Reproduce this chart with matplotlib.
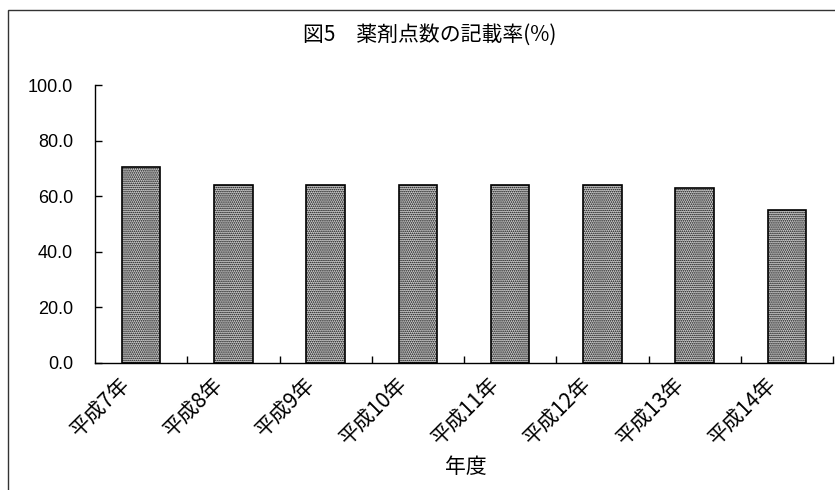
import matplotlib
matplotlib.use("Agg")
import matplotlib.pyplot as plt
from matplotlib.patches import Rectangle
from matplotlib.ticker import FixedLocator, FormatStrFormatter
from matplotlib.transforms import ScaledTranslation

plt.rcParams['font.family'] = ['Noto Sans CJK JP', 'DejaVu Sans']
plt.rcParams['hatch.linewidth'] = 0.8
plt.rcParams['hatch.color'] = '#6a6a6a'

categories = ['平成7年', '平成8年', '平成9年', '平成10年', '平成11年', '平成12年', '平成13年', '平成14年']
rates = [70.4, 64.0, 64.1, 64.0, 64.0, 63.9, 62.9, 55.0]
yticks = [0, 20, 40, 60, 80, 100]

fig = plt.figure(figsize=(8.35, 4.9), dpi=100)
W, H = 835, 490

# outer frame around the chart (its right and bottom edges fall outside the canvas)
fig.patches.append(Rectangle((8 / W, -0.2), 1.2, (480 / H) + 0.2,
                             transform=fig.transFigure, fill=False,
                             edgecolor='#333333', linewidth=1.0))

ax = fig.add_axes([95 / W, (H - 362.7) / H, (833 - 95) / W, (362.7 - 85) / H])
x = list(range(len(categories)))
ax.bar(x, rates, width=0.42, facecolor='#d2d2d2', edgecolor='black',
       linewidth=1.2, hatch='........')

ax.set_xlim(-0.5, len(categories) - 0.5)
ax.set_ylim(0, 100)
ax.set_yticks(yticks)
ax.yaxis.set_major_formatter(FormatStrFormatter('%.1f'))

ax.set_xticks(x)
ax.xaxis.set_minor_locator(FixedLocator([i + 0.5 for i in x]))
ax.tick_params(axis='x', which='major', length=0, pad=13)
ax.tick_params(axis='x', which='minor', direction='in', length=5, width=1)
ax.tick_params(axis='y', direction='in', length=5, width=1, pad=15.8)

ax.set_xticklabels(categories, rotation=45, ha='right', va='center',
                   rotation_mode='anchor', fontsize=15)
for lbl in ax.get_yticklabels():
    lbl.set_family(['Liberation Sans', 'DejaVu Sans'])
    lbl.set_fontsize(13)

# slide the slanted year labels left so they end just before each bar
shift = ScaledTranslation(-14 / 100, 0, fig.dpi_scale_trans)
for lbl in ax.get_xticklabels():
    lbl.set_transform(lbl.get_transform() + shift)

for side in ('top', 'right'):
    ax.spines[side].set_visible(False)
for side in ('left', 'bottom'):
    ax.spines[side].set_linewidth(1.0)

fig.text(430 / W, 1 - 35 / H, '図5　薬剤点数の記載率(%)', ha='center', va='center',
         fontsize=15)
fig.text(466 / W, 1 - 467 / H, '年度', ha='center', va='center', fontsize=15)

fig.savefig('out.png', dpi=100)
